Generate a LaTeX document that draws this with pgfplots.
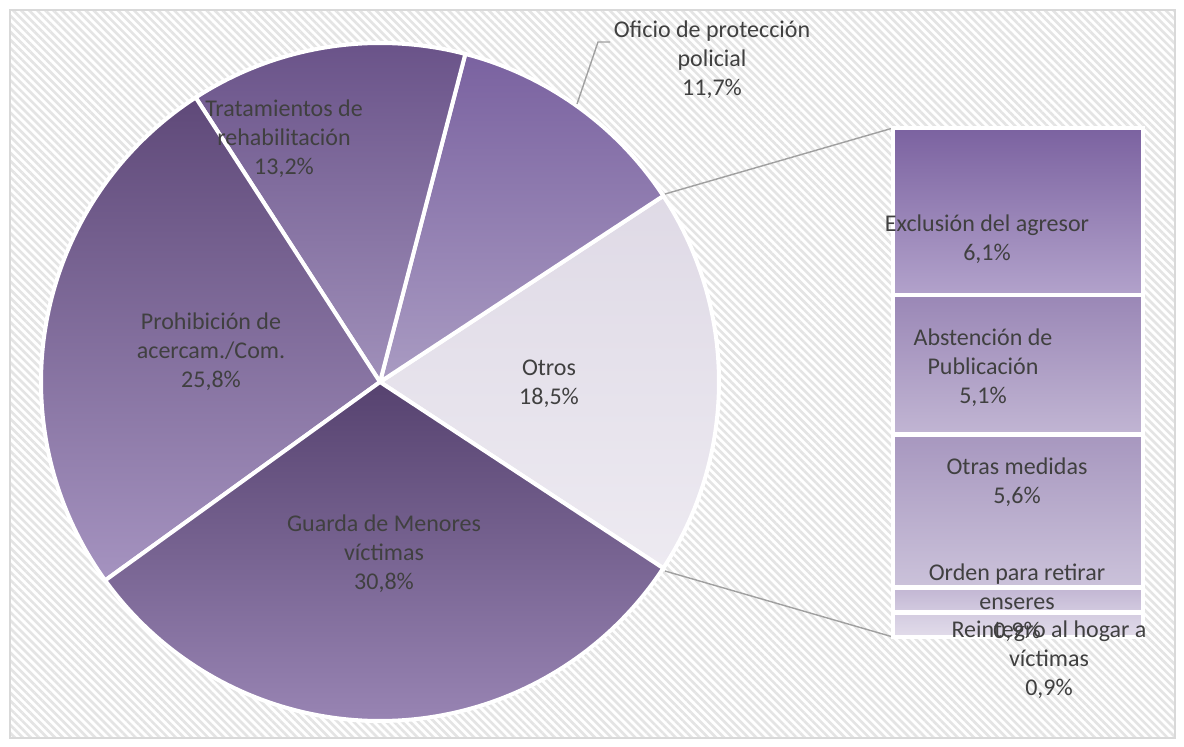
\documentclass[border=0pt]{standalone}
\usepackage{pgfplots}
\pgfplotsset{compat=1.18}
\usepackage{fontspec}
\setmainfont{Carlito}
\usetikzlibrary{patterns.meta}
\definecolor{txt}{HTML}{404040}
\definecolor{hatch}{HTML}{E4E4E4}
\definecolor{framec}{HTML}{D9D9D9}
\definecolor{conn}{HTML}{A0A0A0}
% slice colours (top / bottom of gradient)
\definecolor{gT}{HTML}{56426F}\definecolor{gB}{HTML}{9884B3}
\definecolor{pT}{HTML}{5F4979}\definecolor{pB}{HTML}{A593C0}
\definecolor{tT}{HTML}{6A5389}\definecolor{tB}{HTML}{A090BA}
\definecolor{oT}{HTML}{7A62A0}\definecolor{oB}{HTML}{A99BC2}
\definecolor{rT}{HTML}{DFDAE6}\definecolor{rB}{HTML}{EDEAF1}
% bar colours
\definecolor{eT}{HTML}{7B62A0}\definecolor{eB}{HTML}{B2A2CB}
\definecolor{aT}{HTML}{9A87B6}\definecolor{aB}{HTML}{C1B5D3}
\definecolor{mT}{HTML}{A797BF}\definecolor{mB}{HTML}{CBC2DA}
\definecolor{dT}{HTML}{C2B6D3}\definecolor{dB}{HTML}{D3CBE0}
\definecolor{iT}{HTML}{D3CBE0}\definecolor{iB}{HTML}{E2DCEA}
\pgfplotsset{pixaxis/.style={at={(0,0)}, anchor=south west, scale only axis,
  width=1184pt, height=747pt, xmin=0, xmax=1184, ymin=0, ymax=747,
  y dir=reverse, hide axis, clip=false}}
% slice: start angle, percentage, top colour, bottom colour
\newcommand{\slice}[4]{%
  \addplot[draw=white, line width=4pt, line join=round, top color=#3, bottom color=#4,
    domain={#1}:{#1+3.6*#2}, samples=90, variable=\t]
    ({380+339*cos(\t)},{382-339*sin(\t)}) -- (380,382) -- cycle;}
\begin{document}
\begin{tikzpicture}
\begin{axis}[pixaxis]
  \fill[white] (0,0) rectangle (1184,747);
  \path[pattern={Lines[angle=-45,distance=5.7pt,line width=2.6pt]}, pattern color=hatch]
    (10,10) rectangle (1175,738);
  \draw[framec, line width=1.5pt] (10,10) rectangle (1175,738);
  % pie: Otros 18.5, Oficio 11.7, Tratamientos 13.2, Prohibicion 25.8, Guarda 30.8
  \slice{-33.3}{18.5}{rT}{rB}
  \slice{33.3}{11.7}{oT}{oB}
  \slice{75.42}{13.2}{tT}{tB}
  \slice{122.94}{25.8}{pT}{pB}
  \slice{215.82}{30.8}{gT}{gB}
  % connector and leader lines
  \draw[conn, line width=1.4pt] (665,194) -- (893,128);
  \draw[conn, line width=1.4pt] (665,571) -- (893,637);
  \draw[conn, line width=1.4pt] (577,104) -- (598,42) -- (610,42);
\end{axis}
\begin{axis}[at={(893pt,110pt)}, anchor=south west, scale only axis,
  width=250pt, height=509pt, xmin=-0.5, xmax=0.5, ymin=0, ymax=18.6,
  hide axis, clip=false, ybar stacked, bar width=250pt]
  \addplot[draw=white, line width=4.5pt, top color=iT, bottom color=iB] coordinates {(0,0.9)}; % Reintegro
  \addplot[draw=white, line width=4.5pt, top color=dT, bottom color=dB] coordinates {(0,0.9)}; % Orden
  \addplot[draw=white, line width=4.5pt, top color=mT, bottom color=mB] coordinates {(0,5.6)}; % Otras medidas
  \addplot[draw=white, line width=4.5pt, top color=aT, bottom color=aB] coordinates {(0,5.1)}; % Abstencion
  \addplot[draw=white, line width=4.5pt, top color=eT, bottom color=eB] coordinates {(0,6.1)}; % Exclusion
\end{axis}
\begin{axis}[pixaxis]
  \tikzset{every node/.style={align=center, text=txt, font=\fontsize{24}{29}\selectfont, inner sep=0pt}}
  \node at (712,60) {Oficio de protección\\policial\\11,7\%};
  \node at (284,139) {Tratamientos de\\rehabilitación\\13,2\%};
  \node at (211,352) {Prohibición de\\acercam./Com.\\25,8\%};
  \node at (384,554) {Guarda de Menores\\víctimas\\30,8\%};
  \node at (549,384) {Otros\\18,5\%};
  \node at (987,239) {Exclusión del agresor\\6,1\%};
  \node at (983,368) {Abstención de\\Publicación\\5,1\%};
  \node at (1017,482) {Otras medidas\\5,6\%};
  \node at (1017,603) {Orden para retirar\\enseres\\0,9\%};
  \node at (1049,660) {Reintegro al hogar a\\víctimas\\0,9\%};
\end{axis}
\end{tikzpicture}
\end{document}
